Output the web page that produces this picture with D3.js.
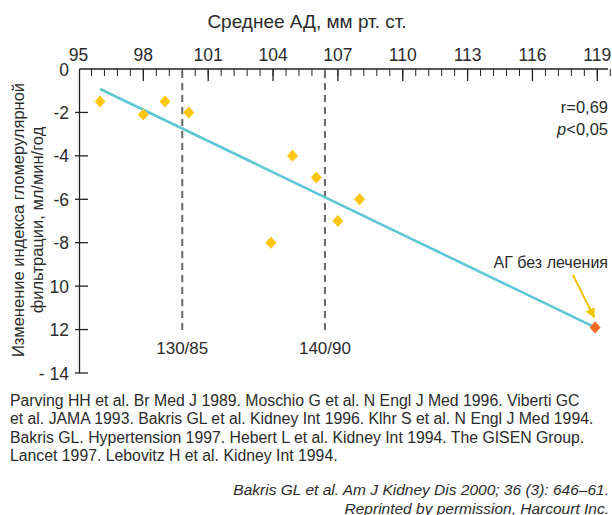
<!DOCTYPE html>
<html>
<head>
<meta charset="utf-8">
<script src="https://cdn.jsdelivr.net/npm/d3@7"></script>
<style>
  body { margin: 0; background: #fff; }
  svg { display: block; font-family: "Liberation Sans", Arial, sans-serif; }
</style>
</head>
<body>
<div id="chart"></div>
<script>
// Data
var pointsX = [96.0, 98.0, 99.0, 100.1, 104.9, 106.0, 103.9, 107.0, 108.0];
var pointsY = [-1.5, -2.1, -1.5, -2.0, -4.0, -5.0, -8.0, -7.0, -6.0];
var untreatedX = 118.9;
var untreatedY = -11.9;
// regression line ends
var fitX = [96.0, 118.8];
var fitY = [-0.92, -11.85];
// x ticks (mean BP) and y ticks (GFR change)
var xTicks = [95, 98, 101, 104, 107, 110, 113, 116, 119];
var yTicks = [0, -2, -4, -6, -8, -10, -12, -14];
var yTickLabels = ["0", "-2", "-4", "-6", "-8", "10", "12", "- 14"];
// target pressure markers
var targetX = [99.8, 106.4];
var targetLabels = ["130/85", "140/90"];

var footnotes = [
    "Parving HH et al. Br Med J 1989. Moschio G et al. N Engl J Med 1996. Viberti GC",
    "et al. JAMA 1993. Bakris GL et al. Kidney Int 1996. Klhr S et al. N Engl J Med 1994.",
    "Bakris GL. Hypertension 1997. Hebert L et al. Kidney Int 1994. The GISEN Group.",
    "Lancet 1997. Lebovitz H et al. Kidney Int 1994."
];
var sources = [
    "Bakris GL et al. Am J Kidney Dis 2000; 36 (3): 646\u201361.",
    "Reprinted by permission, Harcourt Inc."
];

var width = 612, height = 515;
var textColor = "#2b2b2b";

var svg = d3.select("#chart").append("svg")
    .attr("width", width)
    .attr("height", height);

var x = d3.scaleLinear().domain([95, 119]).range([78.5, 597.3]);
var y = d3.scaleLinear().domain([0, -14]).range([69, 373]);

// title
svg.append("text")
    .attr("x", 307).attr("y", 28)
    .attr("text-anchor", "middle")
    .attr("font-size", 19)
    .attr("fill", textColor)
    .text("Среднее АД, мм рт. ст.");

// top axis line
svg.append("line")
    .attr("x1", 79.5).attr("x2", 608)
    .attr("y1", y(0)).attr("y2", y(0))
    .attr("stroke", "#222").attr("stroke-width", 1.3);

// minor ticks every 0.6
var minor = d3.range(1, 42).map(function(k) { return 95 + 0.6 * k; });
svg.selectAll(".minor").data(minor).enter().append("line")
    .attr("x1", function(d) { return x(d); })
    .attr("x2", function(d) { return x(d); })
    .attr("y1", y(0)).attr("y2", y(0) + 7)
    .attr("stroke", "#222").attr("stroke-width", 1);

// major ticks
svg.selectAll(".major").data(xTicks.slice(1)).enter().append("line")
    .attr("x1", function(d) { return x(d); })
    .attr("x2", function(d) { return x(d); })
    .attr("y1", y(0)).attr("y2", y(0) + 12)
    .attr("stroke", "#222").attr("stroke-width", 1.3);

svg.selectAll(".xlab").data(xTicks).enter().append("text")
    .attr("x", function(d) { return x(d); })
    .attr("y", 61)
    .attr("text-anchor", "middle")
    .attr("font-size", 17.5)
    .attr("fill", textColor)
    .text(function(d) { return d; });

// left axis
svg.append("line")
    .attr("x1", 79.5).attr("x2", 79.5)
    .attr("y1", y(0)).attr("y2", y(-14))
    .attr("stroke", "#222").attr("stroke-width", 1.3);

svg.selectAll(".ytick").data(yTicks.slice(1)).enter().append("line")
    .attr("x1", 75).attr("x2", 88)
    .attr("y1", function(d) { return y(d); })
    .attr("y2", function(d) { return y(d); })
    .attr("stroke", "#222").attr("stroke-width", 1.3);

svg.selectAll(".ylab").data(yTicks).enter().append("text")
    .attr("x", 69)
    .attr("y", function(d) { return y(d) + 6.5; })
    .attr("text-anchor", "end")
    .attr("font-size", 17.5)
    .attr("fill", textColor)
    .text(function(d, i) { return yTickLabels[i]; });

// y axis title, two lines
var yTitle = svg.append("text")
    .attr("transform", "translate(24,220) rotate(-90)")
    .attr("text-anchor", "middle")
    .attr("font-size", 16.5)
    .attr("fill", textColor);
yTitle.append("tspan").attr("x", 0).attr("dy", 0).text("Изменение индекса гломерулярной");
yTitle.append("tspan").attr("x", 0).attr("dy", 19).text("фильтрации, мл/мин/год");

// dashed target lines
svg.selectAll(".target").data(targetX).enter().append("line")
    .attr("x1", function(d) { return x(d); })
    .attr("x2", function(d) { return x(d); })
    .attr("y1", y(0) + 2).attr("y2", 335)
    .attr("stroke", "#666").attr("stroke-width", 2)
    .attr("stroke-dasharray", "7,5");

svg.selectAll(".targetLab").data(targetX).enter().append("text")
    .attr("x", function(d) { return x(d); })
    .attr("y", 354)
    .attr("text-anchor", "middle")
    .attr("font-size", 17)
    .attr("fill", textColor)
    .text(function(d, i) { return targetLabels[i]; });

// regression line
svg.append("line")
    .attr("x1", x(fitX[0])).attr("y1", y(fitY[0]))
    .attr("x2", x(fitX[1])).attr("y2", y(fitY[1]))
    .attr("stroke", "#5cc6d6").attr("stroke-width", 2.6);

function diamond(cx, cy) {
    var w = 5.5, h = 6;
    return "M" + cx + "," + (cy - h) + "L" + (cx + w) + "," + cy +
        "L" + cx + "," + (cy + h) + "L" + (cx - w) + "," + cy + "Z";
}

svg.selectAll(".pt").data(pointsX).enter().append("path")
    .attr("d", function(d, i) { return diamond(x(d), y(pointsY[i])); })
    .attr("fill", "#ffc50f");

svg.append("path")
    .attr("d", diamond(x(untreatedX), y(untreatedY)))
    .attr("fill", "#f26a22");

// stats
svg.append("text")
    .attr("x", 608).attr("y", 113)
    .attr("text-anchor", "end")
    .attr("font-size", 16.5)
    .attr("fill", textColor)
    .text("r=0,69");
var pText = svg.append("text")
    .attr("x", 608).attr("y", 135)
    .attr("text-anchor", "end")
    .attr("font-size", 16.5)
    .attr("fill", textColor);
pText.append("tspan").attr("font-style", "italic").text("p");
pText.append("tspan").text("<0,05");

// untreated annotation + arrow
svg.append("defs").append("marker")
    .attr("id", "arrow")
    .attr("viewBox", "0 0 10 10")
    .attr("refX", 9).attr("refY", 5)
    .attr("markerWidth", 5).attr("markerHeight", 5)
    .attr("orient", "auto")
    .append("path").attr("d", "M0,0L10,5L0,10Z").attr("fill", "#f5c200");

svg.append("text")
    .attr("x", 608).attr("y", 268)
    .attr("text-anchor", "end")
    .attr("font-size", 16)
    .attr("fill", textColor)
    .text("АГ без лечения");

svg.append("line")
    .attr("x1", 573).attr("y1", 275)
    .attr("x2", x(untreatedX) - 1).attr("y2", y(untreatedY) - 10)
    .attr("stroke", "#f5c200").attr("stroke-width", 2)
    .attr("marker-end", "url(#arrow)");

// footnotes
svg.selectAll(".foot").data(footnotes).enter().append("text")
    .attr("x", 10)
    .attr("y", function(d, i) { return 405.5 + i * 18.5; })
    .attr("font-size", 15.8)
    .attr("fill", textColor)
    .text(function(d) { return d; });

svg.selectAll(".src").data(sources).enter().append("text")
    .attr("x", 609)
    .attr("y", function(d, i) { return 495 + i * 18.5; })
    .attr("text-anchor", "end")
    .attr("font-size", 15.5)
    .attr("font-style", "italic")
    .attr("fill", textColor)
    .text(function(d) { return d; });
</script>
</body>
</html>
